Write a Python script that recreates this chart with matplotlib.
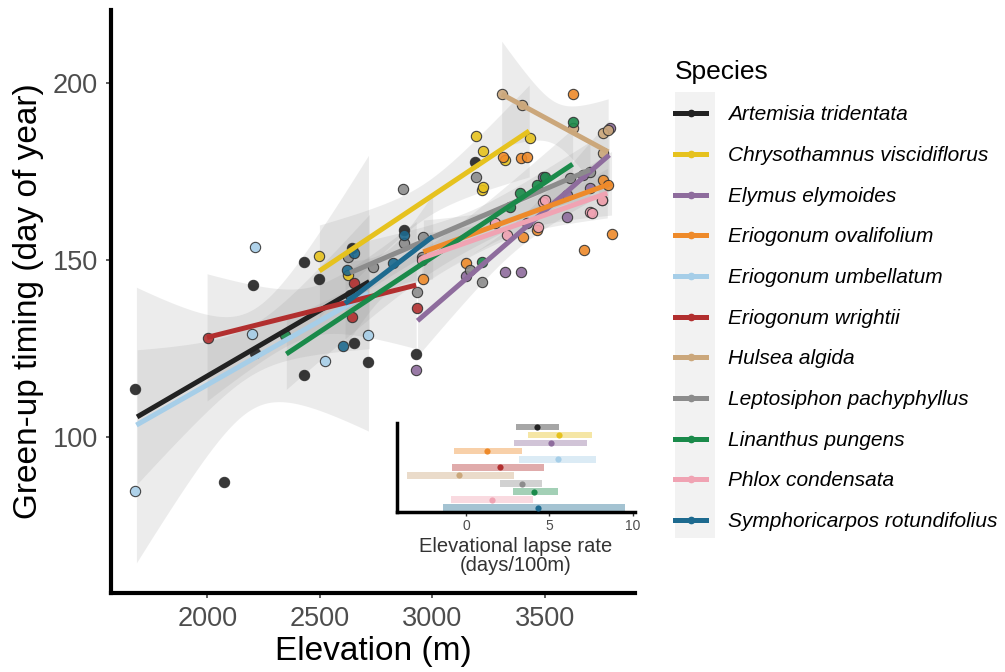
import numpy as np
import matplotlib.pyplot as plt
from matplotlib.lines import Line2D
from matplotlib.patches import Rectangle

plt.rcParams['font.family'] = ['Liberation Sans', 'DejaVu Sans']

species = ["Artemisia tridentata", "Chrysothamnus viscidiflorus", "Elymus elymoides",
           "Eriogonum ovalifolium", "Eriogonum umbellatum", "Eriogonum wrightii",
           "Hulsea algida", "Leptosiphon pachyphyllus", "Linanthus pungens",
           "Phlox condensata", "Symphoricarpos rotundifolius"]
colors = ["#222222", "#E6C21E", "#8E6C9D", "#EE8A2A", "#A6CEE8", "#B22F2F",
          "#CBA77B", "#8C8C8C", "#1A8A4A", "#F0A3B3", "#1D6A8F"]

# observations (elevation m, green-up day of year)
art_x = [1677, 2073, 2201, 2210, 2430, 2430, 2498, 2642, 2652, 2716, 2928, 2874, 3191]
art_y = [113.4, 87.2, 142.9, 123.6, 117.4, 149.5, 144.5, 153.3, 126.6, 121.2, 123.4, 158.5, 177.8]
chr_x = [2498, 2627, 3219, 3194, 3226, 3226, 3322, 3433]
chr_y = [151.1, 145.7, 169.8, 185.1, 180.9, 170.6, 178.3, 184.4]
ely_x = [2928, 3150, 3322, 3392, 3419, 3493, 3596, 3599, 3670, 3700, 3788]
ely_y = [118.9, 145.5, 146.7, 146.7, 160.4, 173.6, 168.4, 162.3, 174.0, 170.5, 187.3]
ova_x = [2957, 3148, 3315, 3392, 3404, 3419, 3463, 3626, 3673, 3759, 3781, 3796]
ova_y = [144.5, 149.1, 179.2, 178.8, 156.6, 179.2, 158.5, 196.9, 152.8, 172.6, 171.2, 157.3]
umb_x = [1677, 2197, 2210, 2524, 2715]
umb_y = [84.7, 129.0, 153.6, 121.3, 128.8]
wri_x = [2003, 2642, 2652, 2930]
wri_y = [128.0, 133.8, 143.6, 136.3]
hul_x = [3308, 3397, 3626, 3752, 3759, 3759, 3781]
hul_y = [196.9, 193.9, 187.3, 167.0, 185.8, 180.2, 186.8]
lep_x = [2627, 2738, 2868, 2874, 2930, 2952, 2957, 3167, 3194, 3220, 3611, 3700]
lep_y = [150.9, 148.1, 170.0, 154.7, 141.0, 150.9, 156.6, 147.2, 173.6, 143.7, 173.1, 175.0]
lin_x = [2345, 3219, 3345, 3389, 3463, 3500, 3626]
lin_y = [128.8, 149.5, 165.1, 168.9, 171.2, 173.6, 189.1]
phl_x = [2952, 3278, 3330, 3470, 3493, 3500, 3700, 3707, 3752]
phl_y = [150.0, 160.4, 157.1, 159.4, 166.5, 167.0, 163.7, 163.4, 167.0]
sym_x = [2601, 2620, 2635, 2650, 2827, 2874]
sym_y = [125.6, 147.2, 140.1, 152.0, 149.1, 157.1]

pts_x = [art_x, chr_x, ely_x, ova_x, umb_x, wri_x, hul_x, lep_x, lin_x, phl_x, sym_x]
pts_y = [art_y, chr_y, ely_y, ova_y, umb_y, wri_y, hul_y, lep_y, lin_y, phl_y, sym_y]

# fitted lines (start / end) and confidence band half widths
fit_x0 = [1688, 2498, 2934, 2960, 1685, 1999, 3308, 2635, 2351, 2953, 2612]
fit_y0 = [105.6, 146.9, 132.8, 152.3, 103.3, 128.1, 196.9, 146.4, 123.4, 150.5, 137.7]
fit_x1 = [2720, 3430, 3786, 3796, 2716, 2928, 3781, 3700, 3623, 3777, 3001]
fit_y1 = [143.9, 186.5, 179.7, 171.7, 140.6, 142.9, 180.6, 175.5, 177.1, 168.9, 156.6]
band_min = [7, 5, 4, 4, 14, 7, 6, 3, 4, 3, 6]
band_end = [19, 13, 10, 9, 39, 18, 15, 8, 10, 7, 12]

# lapse rates (days/100m)
lapse_est = [4.28, 5.6, 5.1, 1.24, 5.54, 2.04, -0.4, 3.34, 4.1, 1.58, 4.34]
lapse_lo = [2.98, 3.74, 2.9, -0.72, 3.2, -0.86, -3.52, 2.06, 2.8, -0.9, -1.36]
lapse_hi = [5.6, 7.54, 7.28, 3.34, 7.78, 4.66, 2.9, 4.58, 5.54, 4.04, 9.54]

fig = plt.figure(figsize=(10.05, 6.72), dpi=100)
ax = fig.add_axes([0.1104, 0.1176, 0.5214, 0.8674])

for i in range(len(species)):
    xs = np.linspace(fit_x0[i], fit_x1[i], 80)
    ys = fit_y0[i] + (xs - fit_x0[i]) * (fit_y1[i] - fit_y0[i]) / (fit_x1[i] - fit_x0[i])
    xc = (fit_x0[i] + fit_x1[i]) / 2
    half = (fit_x1[i] - fit_x0[i]) / 2
    hw = np.sqrt(band_min[i] ** 2 + (band_end[i] ** 2 - band_min[i] ** 2) * ((xs - xc) / half) ** 2)
    ax.fill_between(xs, ys - hw, ys + hw, color="#999999", alpha=0.18, lw=0, zorder=1)

for i in range(len(species)):
    ax.scatter(pts_x[i], pts_y[i], s=55, color=colors[i], edgecolor="#333333",
               linewidth=0.8, alpha=0.9, zorder=2)

for i in range(len(species)):
    ax.plot([fit_x0[i], fit_x1[i]], [fit_y0[i], fit_y1[i]], color=colors[i],
            lw=3.6, solid_capstyle="butt", zorder=3)

ax.set_xlim(1572, 3900)
ax.set_ylim(55.8, 220.7)
ax.set_xticks([2000, 2500, 3000, 3500])
ax.set_yticks([100, 150, 200])
for s in ["top", "right"]:
    ax.spines[s].set_visible(False)
for s in ["left", "bottom"]:
    ax.spines[s].set_linewidth(3)
ax.tick_params(length=3.5, width=1.1, color="#333333", labelsize=19.5,
               labelcolor="#4d4d4d", pad=6)
ax.set_xlabel("Elevation (m)", fontsize=24, labelpad=3)
ax.set_ylabel("Green-up timing (day of year)", fontsize=24, labelpad=6)

# inset with lapse rates
ax_in = fig.add_axes([0.395, 0.2385, 0.237, 0.132])
ax_in.patch.set_alpha(0)
rows = np.arange(len(species), 0, -1)
for i in range(len(species)):
    ax_in.barh(rows[i], lapse_hi[i] - lapse_lo[i], left=lapse_lo[i], height=0.8,
               color=colors[i], alpha=0.4, lw=0)
    ax_in.scatter(lapse_est[i], rows[i], s=20, color=colors[i], zorder=3, lw=0)
ax_in.set_xlim(-4.14, 10.14)
ax_in.set_ylim(0.5, 11.5)
ax_in.set_xticks([0, 5, 10])
ax_in.set_yticks([])
for s in ["top", "right"]:
    ax_in.spines[s].set_visible(False)
for s in ["left", "bottom"]:
    ax_in.spines[s].set_linewidth(2.5)
ax_in.tick_params(length=3, width=1, color="#333333", labelsize=10,
                  labelcolor="#4d4d4d", pad=2)
ax_in.set_xlabel("Elevational lapse rate\n(days/100m)", fontsize=14.5, color="#333333",
                 linespacing=1.0, labelpad=3)

# legend
fig.add_artist(Rectangle((0.6713, 0.1994), 0.0402, 0.663, transform=fig.transFigure,
                         color="#f2f2f2", lw=0, zorder=0))
handles = [Line2D([0], [0], color=c, lw=3.6, marker="o", markersize=4.5) for c in colors]
leg = fig.legend(handles, species, loc="upper left", bbox_to_anchor=(0.6716, 0.911),
                 frameon=False, title="Species", title_fontsize=19,
                 prop={"size": 15, "style": "italic"}, handlelength=1.5,
                 handletextpad=1.05, labelspacing=1.04, alignment="left",
                 borderpad=0, borderaxespad=0)

plt.savefig("out.png", dpi=100)
plt.close()
